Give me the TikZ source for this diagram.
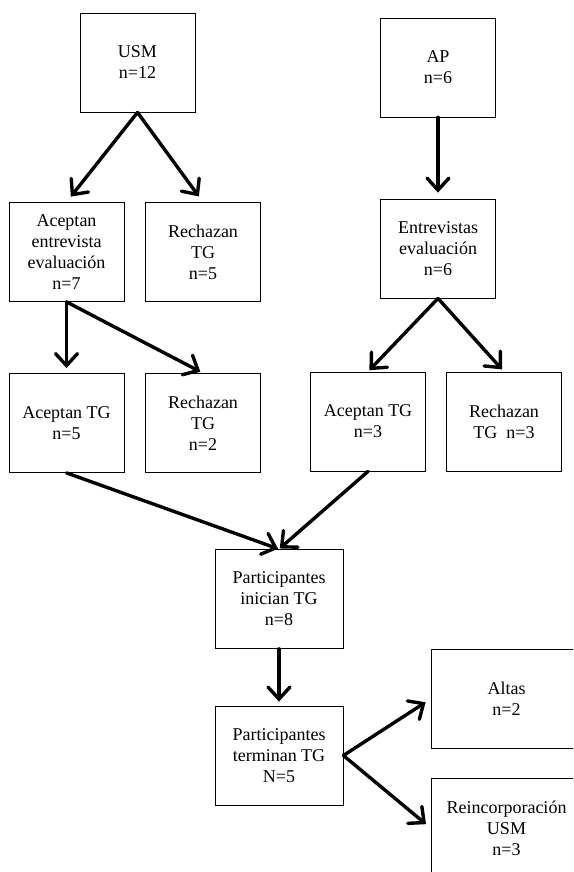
\documentclass[tikz,border=0pt]{standalone}
\usepackage{fontspec}
\setmainfont{Liberation Serif}
\usetikzlibrary{positioning}
\usetikzlibrary{arrows.meta}

\begin{document}
\begin{tikzpicture}[x=1pt, y=-1pt,
  main/.style = {draw, rectangle, line width=0.8pt, align=center, minimum width=115pt, minimum height=99pt, inner sep=2pt, font=\fontsize{18}{21}\selectfont},
  flow/.style = {line width=3.4pt, line cap=round, -{Straight Barb[length=12pt, width=22pt, line cap=round]}}]
\clip (0,0) rectangle (573,872);
\node[main] (1) at (137.5,62.5) {USM\\n=12};
\node[main] (2) at (438,67.5) {AP\\n=6};
\node[main] (3) at (66.5,252) {Aceptan\\entrevista\\evaluación\\n=7};
\node[main] (4) [right of=3, node distance=136.5pt] {Rechazan\\TG\\n=5};
\node[main] (5) [below of=2, node distance=181pt] {Entrevistas\\evaluación\\n=6};
\node[main] (6) [below of=3, node distance=171pt] {Aceptan TG\\n=5};
\node[main] (7) [right of=6, node distance=136.5pt] {Rechazan\\TG\\n=2};
\node[main] (8) at (368,421.5) {Aceptan TG\\n=3};
\node[main] (9) [right of=8, node distance=136pt] {Rechazan\\TG\ \ n=3};
\node[main, minimum width=128pt] (10) at (279,599) {Participantes\\inician TG\\n=8};
\node[main, minimum width=128pt] (11) [below of=10, node distance=156.5pt] {Participantes\\terminan TG\\N=5};
\node[main, minimum width=151pt] (12) at (506.5,699) {Altas\\n=2};
\node[main, minimum width=151pt, minimum height=100pt] (13) [below of=12, node distance=129pt] {Reincorporación\\USM\\n=3};
\path (1.south) edge [flow, shorten >=7pt] (3.north);
\path (1.south) edge [flow, shorten >=7pt] (4.north);
\path (2.south) edge [flow, shorten >=6pt] (5.north);
\path (3.south) edge [flow, shorten >=5pt] (6.north);
\path (3.south) edge [flow, shorten >=3pt] (7.north);
\path (5.south) edge [flow, shorten >=2pt] (8.north);
\path (5.south) edge [flow, shorten >=3pt] (9.north);
\path (6.south) edge [flow, shorten >=1pt] (10.north);
\path (8.south) edge [flow, shorten >=1pt] (10.north);
\path (10.south) edge [flow, shorten >=4pt] (11.north);
\path (11.east) edge [flow, shorten >=6pt] (12.west);
\path (11.east) edge [flow, shorten >=6pt] (13.west);
%\path (4.south) edge [flow] (7.north);
\end{tikzpicture}
\end{document}
